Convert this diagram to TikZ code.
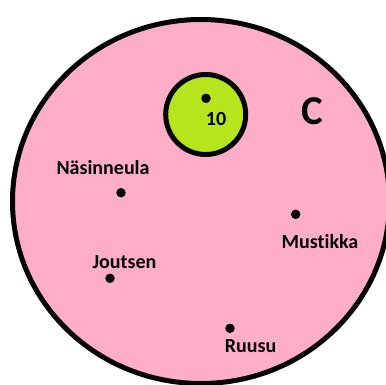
\documentclass[tikz,border=0pt]{standalone}
\usepackage{fontspec}
\setmainfont[Ligatures=NoCommon]{Carlito}
\definecolor{rose}{RGB}{255,174,201}
\definecolor{lime}{RGB}{181,230,29}
\tikzset{
  dot/.style={circle, fill=black, inner sep=0pt, minimum size=9.5pt},
  lbl/.style={anchor=base, inner sep=0pt, font=\fontsize{20}{21}\selectfont\bfseries}
}
\begin{document}
\begin{tikzpicture}[x=1pt, y=-1pt]
        \useasboundingbox[fill=white] (0,0) rectangle (386,385);

        % big set C
        \draw[fill=rose, line width=5pt] (201,201.5) ellipse (188.5 and 182);
        \node[lbl, font=\fontsize{41}{42}\selectfont\bfseries] (setc) at (312,124.3) {C};

        % small set
        \draw[fill=lime, line width=5pt] (205.7,114.5) circle (40);
        \node[dot] (p10) at (206,98.3) {};
        \node[lbl] (l10) at (216,126) {10};

        \node[dot] (nasi) at (121,192.7) {};
        \node[lbl] (lnasi) at (103,175) {Näsinneula};

        \node[dot] (jout) at (110,278.3) {};
        \node[lbl] (ljout) at (124.5,268.3) {Joutsen};

        \node[dot] (must) at (295.7,214.3) {};
        \node[lbl] (lmust) at (320,248.3) {Mustikka};

        \node[dot] (ruus) at (230,328.3) {};
        \node[lbl] (lruus) at (250.5,352.3) {Ruusu};
      \end{tikzpicture}
\end{document}
